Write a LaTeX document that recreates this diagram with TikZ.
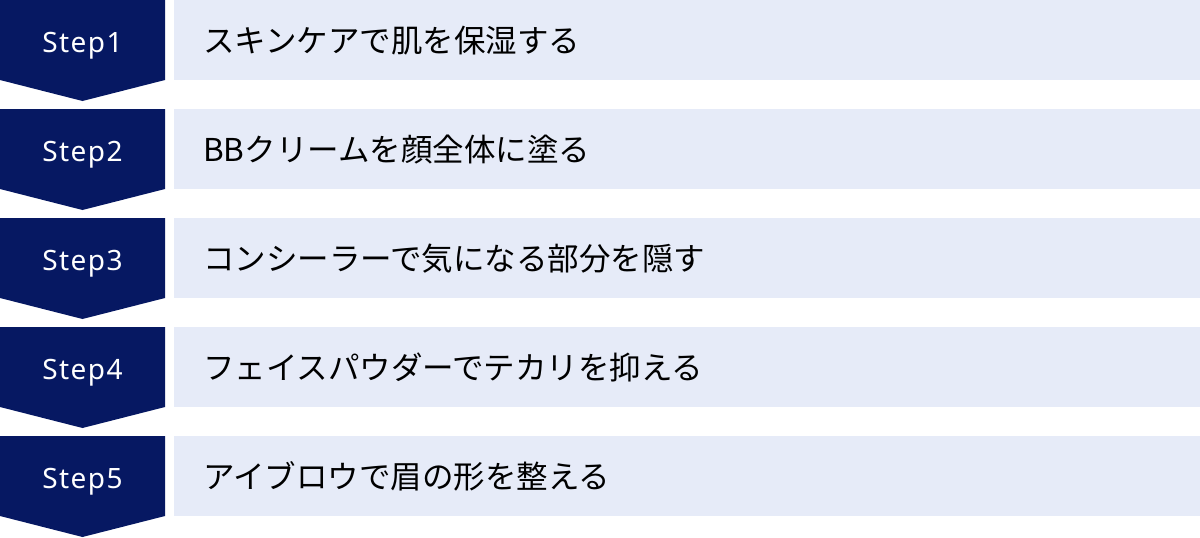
\documentclass[tikz,border=0pt]{standalone}
\usepackage{fontspec}
\newfontfamily\jpfont{Noto Sans CJK JP}
\newfontfamily\latfont[LetterSpace=5]{Noto Sans}
\usetikzlibrary{positioning}
\definecolor{tamnoplava}{HTML}{061862}
\definecolor{svijetloplava}{HTML}{E6EBF8}
\tikzset{
  strelica/.style={fill=tamnoplava},
  korak/.style={text=white,anchor=base,inner sep=0pt,font=\latfont\fontsize{28}{32}\selectfont},
  okvir/.style={fill=svijetloplava,anchor=north west,minimum width=1026pt,minimum height=80pt,
    text width=968pt,inner xsep=29pt,align=left,font=\jpfont\fontsize{31.5}{36}\selectfont}
}
\begin{document}
\begin{tikzpicture}[x=1pt,y=-1pt]
\useasboundingbox (0,0) rectangle (1200,538);
% Step1
\fill[strelica] (0,0) -- (165,0) -- (165,80) -- (82.5,101) -- (0,80) -- cycle;
\draw (82.5,52) node(korak1)[korak] {Step1};
\draw (174,0) node(okvir1)[okvir] {スキンケアで肌を保湿する};
% Step2
\fill[strelica] (0,109) -- (165,109) -- (165,189) -- (82.5,210) -- (0,189) -- cycle;
\draw (82.5,161) node(korak2)[korak] {Step2};
\draw (174,109) node(okvir2)[okvir] {BBクリームを顔全体に塗る};
% Step3
\fill[strelica] (0,218) -- (165,218) -- (165,298) -- (82.5,319) -- (0,298) -- cycle;
\draw (82.5,270) node(korak3)[korak] {Step3};
\draw (174,218) node(okvir3)[okvir] {コンシーラーで気になる部分を隠す};
% Step4
\fill[strelica] (0,327) -- (165,327) -- (165,407) -- (82.5,428) -- (0,407) -- cycle;
\draw (82.5,379) node(korak4)[korak] {Step4};
\draw (174,327) node(okvir4)[okvir] {フェイスパウダーでテカリを抑える};
% Step5
\fill[strelica] (0,436) -- (165,436) -- (165,516) -- (82.5,537) -- (0,516) -- cycle;
\draw (82.5,488) node(korak5)[korak] {Step5};
\draw (174,436) node(okvir5)[okvir] {アイブロウで眉の形を整える};
\end{tikzpicture}
\end{document}
